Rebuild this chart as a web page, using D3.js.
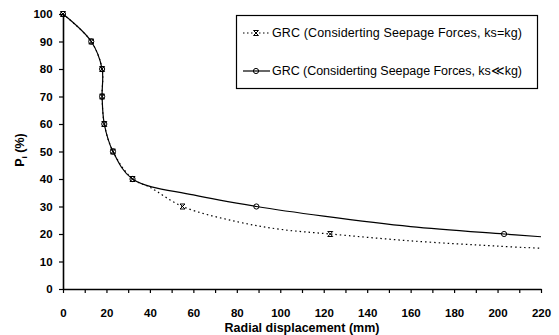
<!DOCTYPE html>
<html><head><meta charset="utf-8">
<script src="https://cdn.jsdelivr.net/npm/d3@7"></script>
<style>body{margin:0;background:#fff}svg{display:block}</style>
</head><body>
<svg id="c" width="559" height="335"></svg>
<script>
const dottedX = [0, 13, 18, 18, 19, 23, 32, 40, 55, 80, 100, 123, 160, 200, 220];
const dottedY = [100, 90, 80, 70, 60, 50, 40, 37, 30, 24.5, 21.7, 20, 17.5, 15.6, 14.8];
const dottedMarkX = [0, 13, 18, 18, 19, 23, 32, 55, 123];
const dottedMarkY = [100, 90, 80, 70, 60, 50, 40, 30, 20];
const solidX = [0, 13, 18, 18, 19, 23, 32, 60, 89, 120, 160, 203, 220];
const solidY = [100, 90, 80, 70, 60, 50, 40, 34.2, 30, 26.5, 22.7, 20, 19];
const solidMarkX = [0, 13, 18, 18, 19, 23, 32, 89, 203];
const solidMarkY = [100, 90, 80, 70, 60, 50, 40, 30, 20];
const xTicks = [0, 20, 40, 60, 80, 100, 120, 140, 160, 180, 200, 220];
const yTicks = [0, 10, 20, 30, 40, 50, 60, 70, 80, 90, 100];
const legendLabels = ["GRC (Considerting Seepage Forces, ks=kg)", "GRC (Considerting Seepage Forces, ks\u226Akg)"];

const svg = d3.select("#c");
const m = {l: 63, r: 18, t: 14, b: 46};
const W = 559, H = 335;
const x = d3.scaleLinear().domain([0, 220]).range([m.l, W - m.r]);
const y = d3.scaleLinear().domain([0, 100]).range([H - m.b, m.t]);
const font = "'Liberation Sans', Arial, sans-serif";

// axes
const xa = svg.append("g").attr("transform", `translate(0,${y(0)})`)
  .call(d3.axisBottom(x).tickValues(d3.range(0, 221, 10)).tickSize(4).tickSizeOuter(0)
    .tickFormat(d => xTicks.includes(d) ? d : ""));
const ya = svg.append("g").attr("transform", `translate(${x(0)},0)`)
  .call(d3.axisLeft(y).tickValues(yTicks).tickSize(4).tickSizeOuter(0));
[xa, ya].forEach(a => {
  a.select(".domain").attr("stroke", "#000").attr("stroke-width", 1.6);
  a.selectAll(".tick line").attr("stroke", "#000").attr("stroke-width", 1.2);
  a.selectAll("text").attr("font-family", font).attr("font-weight", "bold")
    .attr("font-size", 11.5).attr("fill", "#000");
});
xa.selectAll("text").attr("dy", "1.85em");
ya.selectAll("text").attr("dx", "-0.3em");

// axis titles
svg.append("text").attr("x", 302).attr("y", 332).attr("text-anchor", "middle")
  .attr("font-family", font).attr("font-weight", "bold").attr("font-size", 12.5)
  .text("Radial displacement (mm)");
const yt = svg.append("text").attr("transform", "translate(24,150) rotate(-90)")
  .attr("text-anchor", "middle").attr("font-family", font).attr("font-weight", "bold").attr("font-size", 12.5);
yt.append("tspan").text("P");
yt.append("tspan").attr("font-size", 8).attr("dy", 3).text("i");
yt.append("tspan").attr("dy", -3).text(" (%)");

const line = d3.line().x(d => x(d[0])).y(d => y(d[1])).curve(d3.curveCatmullRom.alpha(0.5));
const dotted = dottedX.map((v, i) => [v, dottedY[i]]);
const solid = solidX.map((v, i) => [v, solidY[i]]);

svg.append("path").attr("d", line(dotted)).attr("fill", "none").attr("stroke", "#000")
  .attr("stroke-width", 1.2).attr("stroke-dasharray", "1.5,3");
svg.append("path").attr("d", line(solid)).attr("fill", "none").attr("stroke", "#000")
  .attr("stroke-width", 1.2);

function xMark(g, cx, cy) {
  g.append("path").attr("d", `M${cx-2.5},${cy-2.5}L${cx+2.5},${cy+2.5}M${cx+2.5},${cy-2.5}L${cx-2.5},${cy+2.5}M${cx-2.5},${cy-2.5}H${cx+2.5}M${cx-2.5},${cy+2.5}H${cx+2.5}`)
    .attr("stroke", "#000").attr("stroke-width", 1).attr("fill", "none");
}
function oMark(g, cx, cy) {
  g.append("circle").attr("cx", cx).attr("cy", cy).attr("r", 2.6)
    .attr("fill", "#fff").attr("fill-opacity", 0).attr("stroke", "#000").attr("stroke-width", 1);
}
const mk = svg.append("g");
solidMarkX.forEach((v, i) => oMark(mk, x(v), y(solidMarkY[i])));
dottedMarkX.forEach((v, i) => xMark(mk, x(v), y(dottedMarkY[i])));

// legend
const lg = svg.append("g");
lg.append("rect").attr("x", 236.5).attr("y", 15.5).attr("width", 301).attr("height", 73)
  .attr("fill", "#fff").attr("stroke", "#000").attr("stroke-width", 1.2);
lg.append("line").attr("x1", 243).attr("x2", 270).attr("y1", 33).attr("y2", 33)
  .attr("stroke", "#000").attr("stroke-width", 1.2).attr("stroke-dasharray", "1.5,2.5");
xMark(lg, 256, 33);
lg.append("line").attr("x1", 243).attr("x2", 270).attr("y1", 71).attr("y2", 71)
  .attr("stroke", "#000").attr("stroke-width", 1.2);
oMark(lg, 256, 71);
legendLabels.forEach((t, i) => {
  lg.append("text").attr("x", 272).attr("y", [33, 71][i]).attr("dy", "0.35em")
    .attr("font-family", font).attr("font-size", 12.5).attr("fill", "#000")
    .attr("textLength", 250).attr("lengthAdjust", "spacing").text(t);
});
</script>
</body></html>
